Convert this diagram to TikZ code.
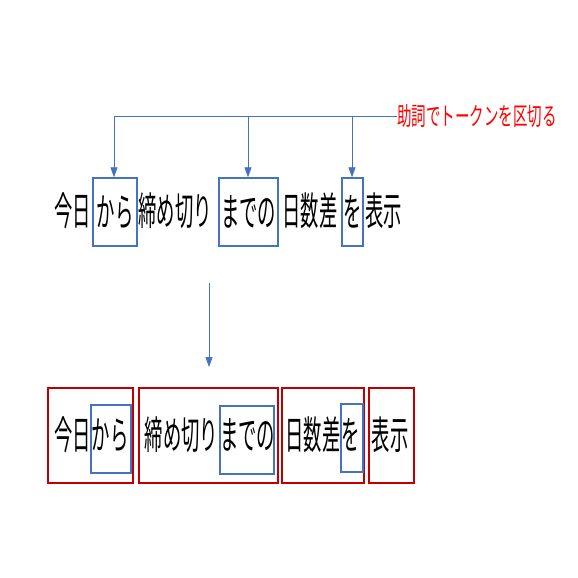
\documentclass[tikz,border=0pt]{standalone}
\usepackage{fontspec}
\usetikzlibrary{arrows.meta}
\newfontfamily\jpmain[FakeStretch=0.47]{Noto Sans CJK JP}
\newfontfamily\jplabel[FakeStretch=0.58]{Noto Sans CJK JP}
\definecolor{pblue}{HTML}{4472C4}
\definecolor{pred}{HTML}{C00000}
\definecolor{lred}{HTML}{FF0000}
\begin{document}
\begin{tikzpicture}[x=1pt,y=-1pt,
  word/.style={inner sep=0pt,font=\jpmain\fontsize{39}{39}\selectfont},
  bluebox/.style={word,draw=pblue,line width=1.4pt,minimum height=68pt},
  redbox/.style={draw=pred,line width=1.4pt,minimum height=95pt,inner sep=0pt},
  conn/.style={draw=pblue,line width=0.8pt},
  arr/.style={conn,-{Triangle[width=7pt,length=10pt]}}]
\useasboundingbox (0,0) rectangle (578,578);
% top row
\node[word] (t1) at (72.5,211) {今日};
\node[bluebox,minimum width=44pt] (t2) at (115,212) {から};
\node[word] (t3) at (175,211) {締め切り};
\node[bluebox,minimum width=59pt] (t4) at (248.5,212) {までの};
\node[word] (t5) at (310,211) {日数差};
\node[bluebox,minimum width=21pt] (t6) at (352.5,212) {を};
\node[word] (t7) at (383.5,211) {表示};
% label and connectors
\node[anchor=west,inner sep=0pt,text=lred,font=\jplabel\fontsize{25}{25}\selectfont] (lab) at (397,116) {助詞でトークンを区切る};
\coordinate (c1) at (114,116);
\coordinate (c2) at (248,116);
\coordinate (c3) at (352,116);
\draw[conn] (lab.west) -- (c1);
\draw[arr] (c1) -- (c1 |- t2.north);
\draw[arr] (c2) -- (c2 |- t4.north);
\draw[arr] (c3) -- (c3 |- t6.north);
% middle arrow
\coordinate (m1) at (209,283);
\coordinate (m2) at (209,367);
\draw[arr] (m1) -- (m2);
% bottom row
\node[redbox,minimum width=85pt] (r1) at (90.5,435.5) {};
\node[redbox,minimum width=139pt] (r2) at (208.5,435.5) {};
\node[redbox,minimum width=82pt] (r3) at (323,435.5) {};
\node[redbox,minimum width=45pt] (r4) at (391.5,435.5) {};
\node[bluebox,minimum width=40pt] (b1) at (111,439) {};
\node[bluebox,minimum width=54pt] (b2) at (247,440) {};
\node[bluebox,minimum width=22pt] (b3) at (352,438) {};
\node[word] (w1) at (72.5,435) {今日};
\node[word] (w2) at (110,435) {から};
\node[word] (w3) at (181.5,435) {締め切り};
\node[word] (w4) at (247.5,435) {までの};
\node[word] (w5) at (313,435) {日数差};
\node[word] (w6) at (351,435) {を};
\node[word] (w7) at (390,435) {表示};
\end{tikzpicture}
\end{document}
